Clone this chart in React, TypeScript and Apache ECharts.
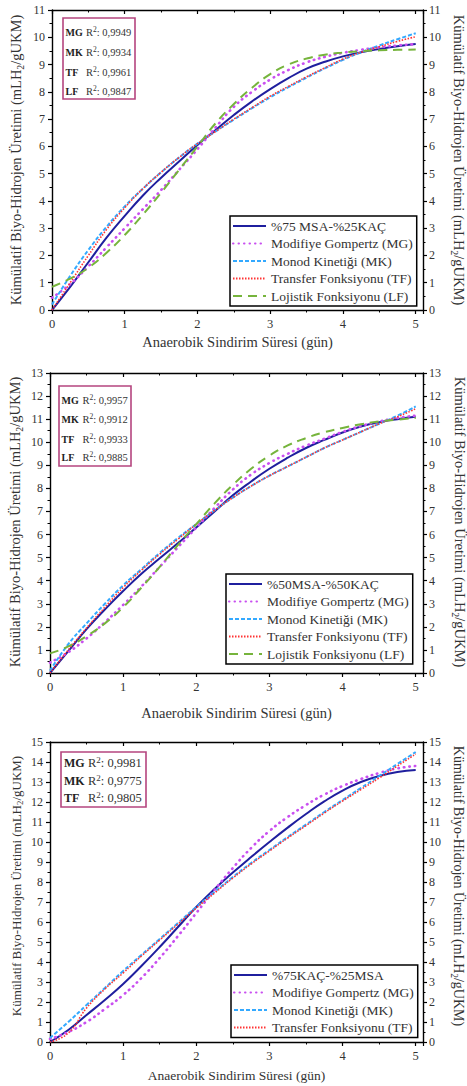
import React, { useEffect, useRef } from "react";
import * as echarts from "echarts";

const FONT = "Liberation Serif";

// ---------- DATA ----------
const days = [0, 0.25, 0.5, 0.75, 1, 1.25, 1.5, 1.75, 2, 2.25, 2.5, 2.75, 3, 3.25, 3.5, 3.75, 4, 4.25, 4.5, 4.75, 5];

// Panel 1: %75 MSA-%25KAÇ
const p1Exp = [0, 0.85, 1.75, 2.65, 3.45, 4.2, 4.85, 5.45, 6.05, 6.6, 7.15, 7.65, 8.1, 8.5, 8.85, 9.1, 9.3, 9.45, 9.57, 9.67, 9.75];
const p1MG = [0.45, 0.95, 1.6, 2.3, 3.0, 3.7, 4.4, 5.15, 5.9, 6.7, 7.45, 8.0, 8.45, 8.8, 9.08, 9.28, 9.43, 9.54, 9.63, 9.7, 9.75];
const p1MK = [0.2, 1.25, 2.2, 3.05, 3.8, 4.45, 5.05, 5.6, 6.1, 6.55, 6.98, 7.4, 7.8, 8.17, 8.52, 8.86, 9.17, 9.45, 9.7, 9.93, 10.15];
const p1TF = [0, 1.0, 2.0, 2.95, 3.75, 4.45, 5.05, 5.6, 6.1, 6.55, 7.0, 7.42, 7.84, 8.2, 8.55, 8.88, 9.2, 9.45, 9.65, 9.85, 10.02];
const p1LF = [0.85, 1.15, 1.55, 2.1, 2.75, 3.5, 4.3, 5.15, 6.0, 6.85, 7.55, 8.15, 8.65, 9.0, 9.22, 9.36, 9.44, 9.49, 9.52, 9.54, 9.55];

// Panel 2: %50MSA-%50KAÇ
const p2Exp = [0, 0.95, 1.9, 2.75, 3.55, 4.3, 4.97, 5.63, 6.3, 7.0, 7.7, 8.3, 8.85, 9.33, 9.75, 10.1, 10.42, 10.68, 10.87, 11.0, 11.1];
const p2MG = [0.45, 0.9, 1.5, 2.2, 2.95, 3.75, 4.6, 5.45, 6.3, 7.15, 7.95, 8.6, 9.1, 9.5, 9.85, 10.15, 10.45, 10.7, 10.9, 11.05, 11.15];
const p2MK = [0.1, 1.25, 2.15, 3.0, 3.8, 4.5, 5.2, 5.85, 6.45, 7.05, 7.6, 8.1, 8.55, 8.95, 9.35, 9.75, 10.1, 10.45, 10.8, 11.15, 11.55];
const p2TF = [0, 1.0, 1.95, 2.85, 3.7, 4.45, 5.15, 5.8, 6.45, 7.05, 7.6, 8.1, 8.55, 8.95, 9.35, 9.75, 10.1, 10.45, 10.8, 11.1, 11.45];
const p2LF = [0.85, 1.15, 1.6, 2.15, 2.85, 3.7, 4.6, 5.55, 6.45, 7.35, 8.15, 8.85, 9.42, 9.86, 10.18, 10.43, 10.62, 10.78, 10.9, 10.98, 11.05];

// Panel 3: %75KAÇ-%25MSA
const p3Exp = [0, 0.6, 1.35, 2.1, 2.9, 3.8, 4.75, 5.75, 6.75, 7.65, 8.47, 9.25, 10.0, 10.72, 11.4, 12.03, 12.57, 13.0, 13.3, 13.5, 13.6];
const p3MG = [0.15, 0.5, 1.0, 1.65, 2.35, 3.2, 4.2, 5.3, 6.45, 7.6, 8.7, 9.7, 10.55, 11.25, 11.85, 12.37, 12.8, 13.15, 13.45, 13.68, 13.8];
const p3MK = [0.2, 1.0, 1.85, 2.7, 3.55, 4.35, 5.15, 5.95, 6.75, 7.5, 8.25, 8.95, 9.6, 10.25, 10.87, 11.5, 12.1, 12.7, 13.3, 13.9, 14.5];
const p3TF = [0, 0.45, 1.7, 2.65, 3.45, 4.3, 5.1, 5.9, 6.7, 7.45, 8.2, 8.9, 9.55, 10.2, 10.82, 11.45, 12.05, 12.62, 13.2, 13.8, 14.4];

const expNames = ["%75 MSA-%25KAÇ", "%50MSA-%50KAÇ", "%75KAÇ-%25MSA"];
const modelNames = ["Modifiye Gompertz (MG)", "Monod Kinetiği (MK)", "Transfer Fonksiyonu (TF)", "Lojistik Fonksiyonu (LF)"];
const modelCodes = ["MG", "MK", "TF", "LF"];

const r2Panel1 = ["0,9949", "0,9934", "0,9961", "0,9847"];
const r2Panel2 = ["0,9957", "0,9912", "0,9933", "0,9885"];
const r2Panel3 = ["0,9981", "0,9775", "0,9805"];

const yMaxes = [11, 13, 15];
const xMax = 5.1;
const xTitle = "Anaerobik Sindirim Süresi (gün)";
const yTitleA = "Kümülatif Biyo-Hidrojen Üretimi (mLH";
const yTitleB = "/gUKM)";

const panelSeries = [
  [p1Exp, p1MG, p1MK, p1TF, p1LF],
  [p2Exp, p2MG, p2MK, p2TF, p2LF],
  [p3Exp, p3MG, p3MK, p3TF],
];
const panelR2 = [r2Panel1, r2Panel2, r2Panel3];

// ---------- LAYOUT / STYLE ----------
const layouts = [
  {
    grid: { left: 52, top: 10, width: 371, height: 300 },
    legend: { left: 230, top: 216 },
    xTitleY: 342, yTitleCy: 160, yTitleL: 16, yTitleR: 459, yTitleSizeL: 14.5, yTitleSizeR: 14.5,
    box: { x: 63, y: 18, w: 72, h: 81, lx: 65.5, vx: 86, ys: [32, 52, 72, 91], fs: 10.5, lfs: 10 },
  },
  {
    grid: { left: 50, top: 373, width: 373, height: 300 },
    legend: { left: 226, top: 574 },
    xTitleY: 713, yTitleCy: 522, yTitleL: 15, yTitleR: 460, yTitleSizeL: 14.5, yTitleSizeR: 14.5,
    box: { x: 59, y: 386, w: 72, h: 80, lx: 61.5, vx: 82.5, ys: [400, 419, 439, 457], fs: 10.5, lfs: 10 },
  },
  {
    grid: { left: 50, top: 742, width: 373, height: 300 },
    legend: { left: 231, top: 965 },
    xTitleY: 1075, yTitleCy: 886, yTitleL: 16, yTitleR: 458, yTitleSizeL: 13, yTitleSizeR: 14,
    box: { x: 61, y: 752, w: 85, h: 55, lx: 64, vx: 88, ys: [763, 781, 798], fs: 12.5, lfs: 12 },
  },
];

const lineStyles = [
  { color: "#1f1f9e", type: "solid", width: 2 },
  { color: "#c94ff0", type: [0.5, 5], width: 2.6, cap: "round" },
  { color: "#33a9ff", type: [4, 2], width: 2 },
  { color: "#ff3333", type: [1.5, 1.5], width: 1.6 },
  { color: "#76b43c", type: [9, 6], width: 2 },
];

const TEXT = "#333";
const AXIS = "#000";

function buildOption() {
  const grid: any[] = [];
  const xAxis: any[] = [];
  const yAxis: any[] = [];
  const series: any[] = [];
  const legend: any[] = [];
  const graphic: any[] = [];

  layouts.forEach((lay, p) => {
    grid.push({ ...lay.grid, containLabel: false, outerBoundsMode: "none" });
    const axisLine = { show: true, onZero: false, lineStyle: { color: AXIS, width: 1.4 } };
    const common = {
      type: "value",
      gridIndex: p,
      min: 0,
      max: xMax,
      interval: 1,
      splitLine: { show: false },
      axisLine,
    };
    xAxis.push({
      ...common,
      position: "bottom",
      axisTick: { show: true, inside: false, length: 4, lineStyle: { color: AXIS, width: 1.2 } },
      minorTick: { show: true, splitNumber: 2, length: 2.5, lineStyle: { color: AXIS, width: 1 } },
      axisLabel: {
        show: true,
        margin: 7,
        fontFamily: FONT,
        fontSize: 12.5,
        color: TEXT,
        showMaxLabel: false,
        formatter: (v: number) => (Math.abs(v - Math.round(v)) < 1e-6 && v <= 5 ? String(Math.round(v)) : ""),
      },
    });
    xAxis.push({
      ...common,
      position: "top",
      axisTick: { show: true, inside: true, length: 4, lineStyle: { color: AXIS, width: 1.2 } },
      minorTick: { show: true, splitNumber: 2, length: 2.5, lineStyle: { color: AXIS, width: 1 } },
      axisLabel: { show: false },
    });
    const yCommon = {
      type: "value",
      gridIndex: p,
      min: 0,
      max: yMaxes[p],
      interval: 1,
      splitLine: { show: false },
      axisLine,
      axisTick: { show: true, inside: false, length: 4, lineStyle: { color: AXIS, width: 1.2 } },
      minorTick: { show: true, splitNumber: 2, length: 2.5, lineStyle: { color: AXIS, width: 1 } },
    };
    yAxis.push({
      ...yCommon,
      position: "left",
      axisLabel: { show: true, margin: 7, fontFamily: FONT, fontSize: 12, color: TEXT },
    });
    yAxis.push({
      ...yCommon,
      position: "right",
      axisLabel: { show: true, margin: 6, fontFamily: FONT, fontSize: 12, color: TEXT },
    });

    const names = [expNames[p], ...modelNames].slice(0, panelSeries[p].length);
    panelSeries[p].forEach((vals, k) => {
      const ls: any = lineStyles[k];
      series.push({
        type: "line",
        name: names[k],
        xAxisIndex: p * 2,
        yAxisIndex: p * 2,
        data: days.map((d, i) => [d, vals[i]]),
        smooth: 0.5,
        symbol: "none",
        showSymbol: false,
        z: 2 + k,
        color: ls.color,
        itemStyle: { color: ls.color },
        lineStyle: { color: ls.color, type: ls.type, width: ls.width, cap: ls.cap || "butt" },
        emphasis: { disabled: true },
      });
    });

    legend.push({
      show: true,
      orient: "vertical",
      left: lay.legend.left,
      top: lay.legend.top,
      padding: [3, 4, 3, 2],
      itemGap: 3.5,
      itemWidth: 33,
      itemHeight: 14,
      borderColor: "#000",
      borderWidth: 1.5,
      borderRadius: 0,
      backgroundColor: "#fff",
      selectedMode: false,
      itemStyle: { opacity: 0, borderWidth: 0 },
      textStyle: { fontFamily: FONT, fontSize: 13.5, color: TEXT, lineHeight: 14 },
      data: names,
    });

    const g = lay.grid;
    const cx = g.left + g.width / 2;
    graphic.push({
      type: "text",
      x: cx,
      y: lay.xTitleY,
      silent: true,
      style: {
        text: xTitle,
        align: "center",
        verticalAlign: "middle",
        textAlign: "center",
        textVerticalAlign: "middle",
        fontFamily: FONT,
        fontSize: p === 2 ? 13.5 : 14.5,
        fill: TEXT,
      },
    });
    const mkYTitle = (x: number, rot: number, size: number) => ({
      type: "text",
      x,
      y: lay.yTitleCy,
      rotation: rot,
      silent: true,
      style: {
        text: `{t|${yTitleA}}{s|2}{t|${yTitleB}}`,
        align: "center",
        verticalAlign: "middle",
        textAlign: "center",
        textVerticalAlign: "middle",
        fontFamily: FONT,
        fontSize: size,
        fill: TEXT,
        rich: {
          t: { fontFamily: FONT, fontSize: size, fill: TEXT, color: TEXT, lineHeight: size + 4 },
          s: { fontFamily: FONT, fontSize: size * 0.68, fill: TEXT, color: TEXT, lineHeight: size * 0.68, verticalAlign: "bottom" },
        },
      },
    });
    graphic.push(mkYTitle(lay.yTitleL, Math.PI / 2, lay.yTitleSizeL));
    graphic.push(mkYTitle(lay.yTitleR, -Math.PI / 2, lay.yTitleSizeR));

    const b = lay.box;
    graphic.push({
      type: "rect",
      silent: true,
      shape: { x: b.x, y: b.y, width: b.w, height: b.h },
      style: { fill: "#fff", stroke: "#b5457f", lineWidth: 1.6 },
      z: 10,
    });
    panelR2[p].forEach((val, i) => {
      graphic.push({
        type: "text",
        silent: true,
        x: b.lx,
        y: b.ys[i],
        z: 11,
        style: {
          text: modelCodes[i],
          align: "left",
          verticalAlign: "middle",
          textAlign: "left",
          textVerticalAlign: "middle",
          fontFamily: FONT,
          fontWeight: "bold",
          fontSize: b.lfs,
          fill: "#222",
        },
      });
      graphic.push({
        type: "text",
        silent: true,
        x: b.vx,
        y: b.ys[i],
        z: 11,
        style: {
          text: `{m|R}{u|2}{m|: ${val}}`,
          align: "left",
          verticalAlign: "middle",
          textAlign: "left",
          textVerticalAlign: "middle",
          fontFamily: FONT,
          fontSize: b.fs,
          fill: "#333",
          rich: {
            m: { fontFamily: FONT, fontSize: b.fs, fill: "#333", color: "#333", lineHeight: b.fs + 3 },
            u: { fontFamily: FONT, fontSize: b.fs * 0.72, fill: "#333", color: "#333", lineHeight: b.fs * 0.72, verticalAlign: "top" },
          },
        },
      });
    });
  });

  return {
    animation: false,
    backgroundColor: "#fff",
    textStyle: { fontFamily: FONT },
    grid,
    xAxis,
    yAxis,
    series,
    legend,
    graphic: { elements: graphic },
  };
}

export default function App() {
  const ref = useRef<HTMLDivElement>(null);
  useEffect(() => {
    if (!ref.current) return;
    const chart = echarts.init(ref.current, null, { renderer: "svg" });
    chart.setOption(buildOption() as any);
    return () => chart.dispose();
  }, []);
  return (
    <div
      ref={ref}
      style={{ position: "absolute", left: 0, top: 0, width: 467, height: 1086, background: "#fff" }}
    />
  );
}
